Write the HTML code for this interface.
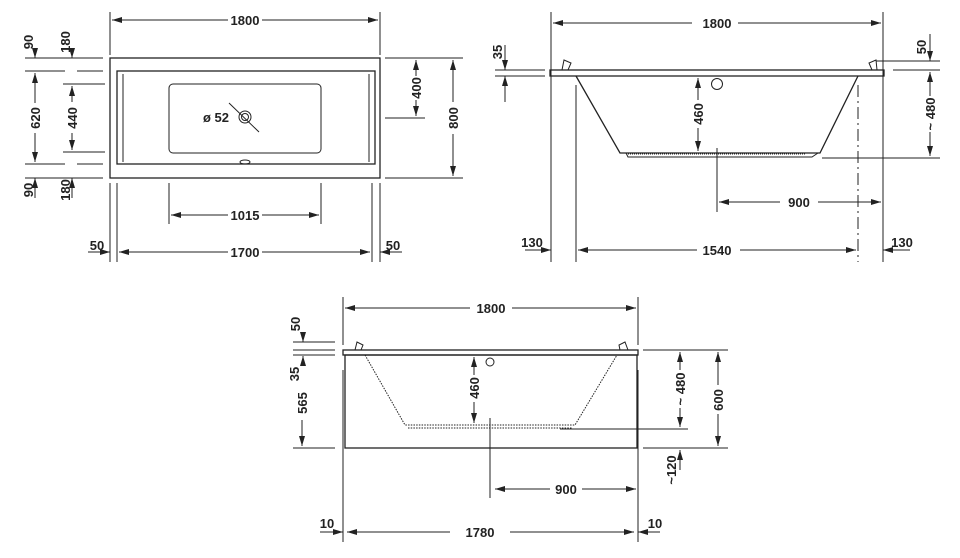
<!DOCTYPE html>
<html><head><meta charset="utf-8"><style>
html,body{margin:0;padding:0;background:#fff}
svg{display:block}
text{font-family:"Liberation Sans",sans-serif;font-weight:bold;font-size:13px;fill:#222}
</style></head><body>
<svg width="960" height="558" viewBox="0 0 960 558" xmlns="http://www.w3.org/2000/svg">
<defs>
<marker id="a" viewBox="0 0 10 6" refX="10" refY="3" markerWidth="10" markerHeight="6" markerUnits="userSpaceOnUse" orient="auto-start-reverse"><path d="M0,0 L10,3 L0,6 z" fill="#222"/></marker>
</defs>
<g stroke="#222" stroke-width="1" fill="none">
<!-- VIEW 1 -->
<rect x="110" y="58" width="270" height="120" stroke-width="1.3"/>
<rect x="117" y="71" width="258" height="93" stroke-width="1.3"/>
<line x1="123" y1="74" x2="123" y2="162"/><line x1="369" y1="74" x2="369" y2="162"/>
<rect x="169" y="84" width="152" height="69" rx="4"/>
<circle cx="245" cy="117" r="6"/><circle cx="245" cy="117" r="3.5"/>
<line x1="229" y1="103" x2="259" y2="132"/>
<ellipse cx="245" cy="162" rx="5" ry="2"/>
<line x1="110" y1="12" x2="110" y2="55"/><line x1="380" y1="12" x2="380" y2="55"/>
<line x1="112" y1="20" x2="228" y2="20" marker-start="url(#a)"/><line x1="262" y1="20" x2="378" y2="20" marker-end="url(#a)"/>
<line x1="25" y1="58" x2="103" y2="58"/><line x1="25" y1="71" x2="65" y2="71"/><line x1="77" y1="71" x2="103" y2="71"/>
<line x1="63" y1="84" x2="105" y2="84"/><line x1="63" y1="152" x2="105" y2="152"/>
<line x1="25" y1="164" x2="65" y2="164"/><line x1="77" y1="164" x2="103" y2="164"/>
<line x1="25" y1="178" x2="103" y2="178"/>
<line x1="35" y1="48" x2="35" y2="58" marker-end="url(#a)"/><line x1="72" y1="48" x2="72" y2="58" marker-end="url(#a)"/>
<line x1="35" y1="198" x2="35" y2="178" marker-end="url(#a)"/><line x1="72" y1="198" x2="72" y2="178" marker-end="url(#a)"/>
<line x1="35" y1="73" x2="35" y2="103" marker-start="url(#a)"/><line x1="35" y1="133" x2="35" y2="162" marker-end="url(#a)"/>
<line x1="72" y1="86" x2="72" y2="102" marker-start="url(#a)"/><line x1="72" y1="133" x2="72" y2="150" marker-end="url(#a)"/>
<line x1="385" y1="58" x2="463" y2="58"/><line x1="385" y1="118" x2="425" y2="118"/><line x1="385" y1="178" x2="463" y2="178"/>
<line x1="416" y1="60" x2="416" y2="76" marker-start="url(#a)"/><line x1="416" y1="100" x2="416" y2="116" marker-end="url(#a)"/>
<line x1="453" y1="60" x2="453" y2="102" marker-start="url(#a)"/><line x1="453" y1="134" x2="453" y2="176" marker-end="url(#a)"/>
<line x1="169" y1="183" x2="169" y2="224"/><line x1="321" y1="183" x2="321" y2="224"/>
<line x1="171" y1="215" x2="228" y2="215" marker-start="url(#a)"/><line x1="262" y1="215" x2="319" y2="215" marker-end="url(#a)"/>
<line x1="110" y1="183" x2="110" y2="262"/><line x1="117" y1="183" x2="117" y2="262"/>
<line x1="372" y1="183" x2="372" y2="262"/><line x1="380" y1="183" x2="380" y2="262"/>
<line x1="119" y1="252" x2="228" y2="252" marker-start="url(#a)"/><line x1="262" y1="252" x2="370" y2="252" marker-end="url(#a)"/>
<line x1="88" y1="252" x2="110" y2="252" marker-end="url(#a)"/><line x1="402" y1="252" x2="380" y2="252" marker-end="url(#a)"/>
<!-- VIEW 2 -->
<line x1="551" y1="12" x2="551" y2="262"/><line x1="883" y1="12" x2="883" y2="262"/>
<line x1="553" y1="23" x2="692" y2="23" marker-start="url(#a)"/><line x1="738" y1="23" x2="881" y2="23" marker-end="url(#a)"/>
<rect x="550" y="70" width="334" height="6" stroke-width="1.3"/>
<path d="M562,70 L564,60 L571,63 L568,70" /><path d="M872,70 L869,63 L876,60 L877,70"/>
<path d="M576,76 L620,153 L820,153 L858,76" stroke-width="1.3"/>
<path d="M626,153 L628,157 L812,157 L818,153"/>
<line x1="628" y1="154" x2="805" y2="154" stroke-dasharray="1,1"/>
<circle cx="717" cy="84" r="5.5"/>
<line x1="698" y1="78" x2="698" y2="100" marker-start="url(#a)"/><line x1="698" y1="128" x2="698" y2="151" marker-end="url(#a)"/>
<line x1="717" y1="148" x2="717" y2="212"/>
<line x1="719" y1="202" x2="780" y2="202" marker-start="url(#a)"/><line x1="818" y1="202" x2="881" y2="202" marker-end="url(#a)"/>
<line x1="576" y1="85" x2="576" y2="262"/><line x1="858" y1="85" x2="858" y2="262" stroke-dasharray="12,4,2,4"/>
<line x1="578" y1="250" x2="697" y2="250" marker-start="url(#a)"/><line x1="740" y1="250" x2="856" y2="250" marker-end="url(#a)"/>
<line x1="525" y1="250" x2="551" y2="250" marker-end="url(#a)"/><line x1="910" y1="250" x2="883" y2="250" marker-end="url(#a)"/>
<line x1="495" y1="70" x2="545" y2="70"/><line x1="495" y1="76" x2="545" y2="76"/>
<line x1="505" y1="45" x2="505" y2="70" marker-end="url(#a)"/><line x1="505" y1="102" x2="505" y2="76" marker-end="url(#a)"/>
<line x1="876" y1="61" x2="940" y2="61"/><line x1="893" y1="70" x2="940" y2="70"/><line x1="822" y1="158" x2="940" y2="158"/>
<line x1="930" y1="34" x2="930" y2="61" marker-end="url(#a)"/>
<line x1="930" y1="72" x2="930" y2="96" marker-start="url(#a)"/><line x1="930" y1="132" x2="930" y2="156" marker-end="url(#a)"/>
<!-- VIEW 3 -->
<line x1="343" y1="297" x2="343" y2="345"/><line x1="638" y1="297" x2="638" y2="345"/>
<line x1="343" y1="370" x2="343" y2="542"/><line x1="638" y1="370" x2="638" y2="542"/>
<line x1="345" y1="308" x2="470" y2="308" marker-start="url(#a)"/><line x1="512" y1="308" x2="636" y2="308" marker-end="url(#a)"/>
<rect x="343" y="350" width="295" height="5" stroke-width="1.3"/>
<rect x="345" y="355" width="292" height="93" stroke-width="1.3"/>
<path d="M355,350 L357,342 L363,345 L361,350"/><path d="M620,350 L619,345 L625,342 L628,350"/>
<path d="M365,355 L405,425 L575,425 L617,355" stroke-dasharray="1.5,1.2"/>
<line x1="408" y1="428" x2="572" y2="428" stroke-dasharray="1.5,1.2"/>
<circle cx="490" cy="362" r="4"/>
<line x1="474" y1="357" x2="474" y2="375" marker-start="url(#a)"/><line x1="474" y1="402" x2="474" y2="423" marker-end="url(#a)"/>
<line x1="490" y1="418" x2="490" y2="498"/>
<line x1="495" y1="489" x2="550" y2="489" marker-start="url(#a)"/><line x1="582" y1="489" x2="636" y2="489" marker-end="url(#a)"/>
<line x1="347" y1="532" x2="450" y2="532" marker-start="url(#a)"/><line x1="510" y1="532" x2="634" y2="532" marker-end="url(#a)"/>
<line x1="320" y1="532" x2="343" y2="532" marker-end="url(#a)"/><line x1="660" y1="532" x2="638" y2="532" marker-end="url(#a)"/>
<line x1="293" y1="342" x2="335" y2="342"/><line x1="293" y1="350" x2="335" y2="350"/><line x1="293" y1="355" x2="335" y2="355"/><line x1="293" y1="448" x2="335" y2="448"/>
<line x1="303" y1="332" x2="303" y2="342" marker-end="url(#a)"/><line x1="303" y1="365" x2="303" y2="356" marker-end="url(#a)"/>
<line x1="302" y1="420" x2="302" y2="446" marker-end="url(#a)"/>
<line x1="643" y1="350" x2="728" y2="350"/><line x1="560" y1="429" x2="688" y2="429"/><line x1="643" y1="448" x2="728" y2="448"/>
<line x1="680" y1="352" x2="680" y2="370" marker-start="url(#a)"/><line x1="680" y1="408" x2="680" y2="427" marker-end="url(#a)"/>
<line x1="718" y1="352" x2="718" y2="385" marker-start="url(#a)"/><line x1="718" y1="414" x2="718" y2="446" marker-end="url(#a)"/>
<line x1="680" y1="470" x2="680" y2="450" marker-end="url(#a)"/>
</g>
<!-- TEXT -->
<text x="245" y="25" text-anchor="middle">1800</text>
<text x="245" y="220" text-anchor="middle">1015</text>
<text x="245" y="257" text-anchor="middle">1700</text>
<text x="97" y="250" text-anchor="middle">50</text>
<text x="393" y="250" text-anchor="middle">50</text>
<text x="203" y="122">ø 52</text>
<text transform="translate(33,42) rotate(-90)" text-anchor="middle">90</text>
<text transform="translate(70,42) rotate(-90)" text-anchor="middle">180</text>
<text transform="translate(40,118) rotate(-90)" text-anchor="middle">620</text>
<text transform="translate(77,118) rotate(-90)" text-anchor="middle">440</text>
<text transform="translate(33,190) rotate(-90)" text-anchor="middle">90</text>
<text transform="translate(70,190) rotate(-90)" text-anchor="middle">180</text>
<text transform="translate(421,88) rotate(-90)" text-anchor="middle">400</text>
<text transform="translate(458,118) rotate(-90)" text-anchor="middle">800</text>
<text x="717" y="28" text-anchor="middle">1800</text>
<text x="717" y="255" text-anchor="middle">1540</text>
<text x="799" y="207" text-anchor="middle">900</text>
<text x="532" y="247" text-anchor="middle">130</text>
<text x="902" y="247" text-anchor="middle">130</text>
<text transform="translate(703,114) rotate(-90)" text-anchor="middle">460</text>
<text transform="translate(502,52) rotate(-90)" text-anchor="middle">35</text>
<text transform="translate(926,47) rotate(-90)" text-anchor="middle">50</text>
<text transform="translate(935,114) rotate(-90)" text-anchor="middle">~ 480</text>
<text x="491" y="313" text-anchor="middle">1800</text>
<text x="480" y="537" text-anchor="middle">1780</text>
<text x="566" y="494" text-anchor="middle">900</text>
<text x="327" y="528" text-anchor="middle">10</text>
<text x="655" y="528" text-anchor="middle">10</text>
<text transform="translate(479,388) rotate(-90)" text-anchor="middle">460</text>
<text transform="translate(300,324) rotate(-90)" text-anchor="middle">50</text>
<text transform="translate(299,374) rotate(-90)" text-anchor="middle">35</text>
<text transform="translate(307,403) rotate(-90)" text-anchor="middle">565</text>
<text transform="translate(685,389) rotate(-90)" text-anchor="middle">~ 480</text>
<text transform="translate(723,400) rotate(-90)" text-anchor="middle">600</text>
<text transform="translate(676,470) rotate(-90)" text-anchor="middle">~120</text>
</svg>
</body></html>
